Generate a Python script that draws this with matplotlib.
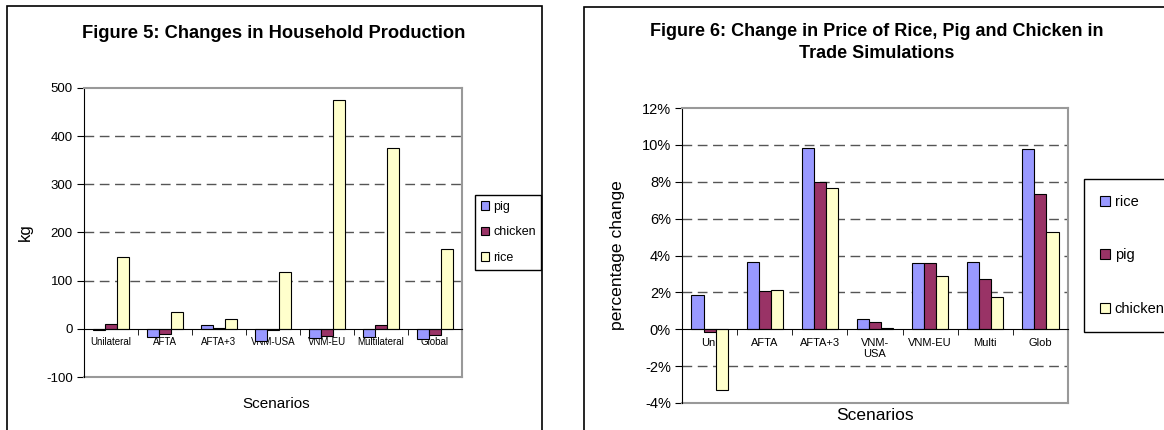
import numpy as np
import matplotlib
matplotlib.use('Agg')
import matplotlib.pyplot as plt
from matplotlib.patches import Rectangle

plt.rcParams['font.family'] = ['Liberation Sans', 'DejaVu Sans']
plt.rcParams['axes.unicode_minus'] = False

# Figure 5 data (kg)
scen5 = ['Unilateral', 'AFTA', 'AFTA+3', 'VNM-USA', 'VNM-EU', 'Multilateral', 'Global']
pig5 = [-3, -17, 8, -25, -20, -17, -22]
chicken5 = [10, -10, 2, -3, -15, 8, -12]
rice5 = [150, 35, 21, 117, 476, 375, 166]

# Figure 6 data (% change)
scen6 = ['Uni', 'AFTA', 'AFTA+3', 'VNM-\nUSA', 'VNM-EU', 'Multi', 'Glob']
rice6 = [1.85, 3.65, 9.85, 0.55, 3.6, 3.65, 9.75]
pig6 = [-0.15, 2.05, 8.0, 0.4, 3.6, 2.75, 7.35]
chicken6 = [-3.3, 2.15, 7.65, 0.08, 2.9, 1.75, 5.25]

BLUE, MAROON, YELLOW = '#9999FF', '#993366', '#FFFFCC'
W, H = 1164, 430

fig = plt.figure(figsize=(W / 100, H / 100), dpi=100)


def fx(px):
    return px / W


def fy(py):
    return 1 - py / H


def rect(x0, y0, x1, y1):
    return [fx(x0), fy(y1), fx(x1) - fx(x0), fy(y0) - fy(y1)]


# outer frames around each chart
fig.patches.append(Rectangle((fx(7), fy(440)), fx(542) - fx(7), fy(6) - fy(440),
                             transform=fig.transFigure, fill=False, lw=1.2, ec='black'))
fig.patches.append(Rectangle((fx(584), fy(440)), fx(1180) - fx(584), fy(7) - fy(440),
                             transform=fig.transFigure, fill=False, lw=1.2, ec='black'))


def bar_chart(ax, cats, series, colors, names, ylim, yticks, grid, xfs, yfs):
    x = np.arange(len(cats))
    w = 0.22
    for i, (vals, c, n) in enumerate(zip(series, colors, names)):
        ax.bar(x + (i - 1) * w, vals, w, color=c, edgecolor='black', lw=0.8,
               label=n, zorder=3)
    ax.set_xlim(-0.5, len(cats) - 0.5)
    ax.set_ylim(*ylim)
    ax.set_yticks(yticks)
    for g in grid:
        ax.axhline(g, color='#555555', lw=1, ls=(0, (7, 4)), zorder=1)
    ax.axhline(ylim[0], color='#999999', lw=1.5, zorder=2, clip_on=False)
    for s in ['top', 'right']:
        ax.spines[s].set_color('#999999')
        ax.spines[s].set_linewidth(1.5)
    ax.spines['left'].set_color('black')
    ax.spines['bottom'].set_position(('data', 0))
    ax.spines['bottom'].set_color('black')
    ax.spines['bottom'].set_zorder(4)
    ax.set_xticks(x)
    ax.set_xticklabels(cats, fontsize=xfs)
    ax.set_xticks(np.arange(len(cats) + 1) - 0.5, minor=True)
    ax.tick_params(axis='x', which='major', length=0, pad=6)
    ax.tick_params(axis='x', which='minor', length=4, direction='out')
    ax.tick_params(axis='y', length=5, direction='out', labelsize=yfs, pad=3)


# ---- Figure 5 ----
ax1 = fig.add_axes(rect(84, 88, 462, 377))
bar_chart(ax1, scen5, [pig5, chicken5, rice5], [BLUE, MAROON, YELLOW],
          ['pig', 'chicken', 'rice'], (-100, 500), range(-100, 501, 100),
          [100, 200, 300, 400], 7, 9.5)
ax1.set_ylabel('kg', fontsize=12)
ax1.yaxis.set_label_coords((33 - 84) / (462 - 84), 0.5)
fig.text(fx(276), fy(404), 'Scenarios', ha='center', va='center', fontsize=11)
fig.text(fx(274), fy(34), 'Figure 5: Changes in Household Production', ha='center',
         va='center', fontsize=13.2, fontweight='bold')
fig.legend(*ax1.get_legend_handles_labels(), loc='upper left',
           bbox_to_anchor=(fx(475), fy(195)), fontsize=9, fancybox=False,
           edgecolor='black', framealpha=1, handlelength=0.7, handleheight=0.7,
           handletextpad=0.3, borderpad=0.45, borderaxespad=0,
           labelspacing=1.1).get_frame().set_linewidth(1)

# ---- Figure 6 ----
ax2 = fig.add_axes(rect(682, 108, 1068, 403))
bar_chart(ax2, scen6, [rice6, pig6, chicken6], [BLUE, MAROON, YELLOW],
          ['rice', 'pig', 'chicken'], (-4, 12), range(-4, 13, 2),
          [-2, 2, 4, 6, 8, 10], 8, 10.5)
ax2.set_yticklabels(['%d%%' % v for v in range(-4, 13, 2)])
ax2.set_ylabel('percentage change', fontsize=12.6)
ax2.yaxis.set_label_coords((625 - 682) / (1068 - 682), 0.5)
fig.text(fx(875), fy(416), 'Scenarios', ha='center', va='center', fontsize=12.5)
fig.text(fx(877), fy(32), 'Figure 6: Change in Price of Rice, Pig and Chicken in',
         ha='center', va='center', fontsize=13, fontweight='bold')
fig.text(fx(877), fy(54), 'Trade Simulations', ha='center', va='center',
         fontsize=13, fontweight='bold')
fig.legend(*ax2.get_legend_handles_labels(), loc='upper left',
           bbox_to_anchor=(fx(1084), fy(179)), fontsize=10.5, fancybox=False,
           edgecolor='black', framealpha=1, handlelength=0.7, handleheight=0.7,
           handletextpad=0.3, borderpad=1.1, labelspacing=2.7,
           borderaxespad=0).get_frame().set_linewidth(1)

fig.savefig('out.png', dpi=100)
